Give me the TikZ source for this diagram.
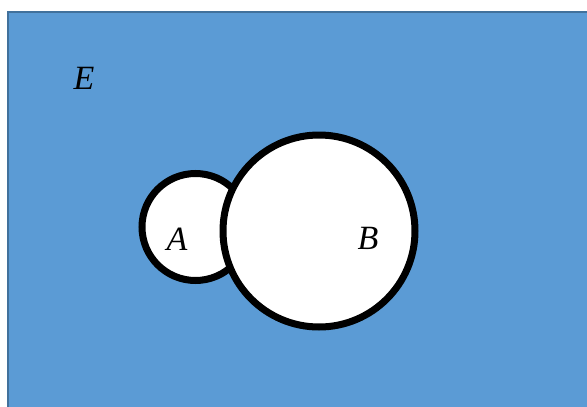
\documentclass[tikz,border=0pt]{standalone}
\usepackage{fontspec}
\setmainfont{Liberation Serif}
\definecolor{setfill}{HTML}{5B9BD5}
\definecolor{setedge}{HTML}{41719C}
\tikzset{
  universe/.style={fill=setfill, draw=setedge, line width=2pt},
  setcircle/.style={circle, draw=black, fill=white, line width=7pt, inner sep=0pt},
  setlabel/.style={font=\fontsize{34}{34}\selectfont\itshape, inner sep=0pt}
}
\begin{document}
\begin{tikzpicture}[x=1pt, y=-1pt]
  \useasboundingbox (0,0) rectangle (587,407);
  \clip (0,0) rectangle (587,407);
  \draw[universe] (8,12) rectangle (600,420);
  \node[setcircle, minimum size=107pt] (A) at (195.5,227) {};
  \node[setcircle, minimum size=192pt] (B) at (319,231) {};
  \node[setlabel] (E) at (84,78) {E};
  \node[setlabel] (lA) at (177,239) {A};
  \node[setlabel] (lB) at (368,238) {B};
\end{tikzpicture}
\end{document}
